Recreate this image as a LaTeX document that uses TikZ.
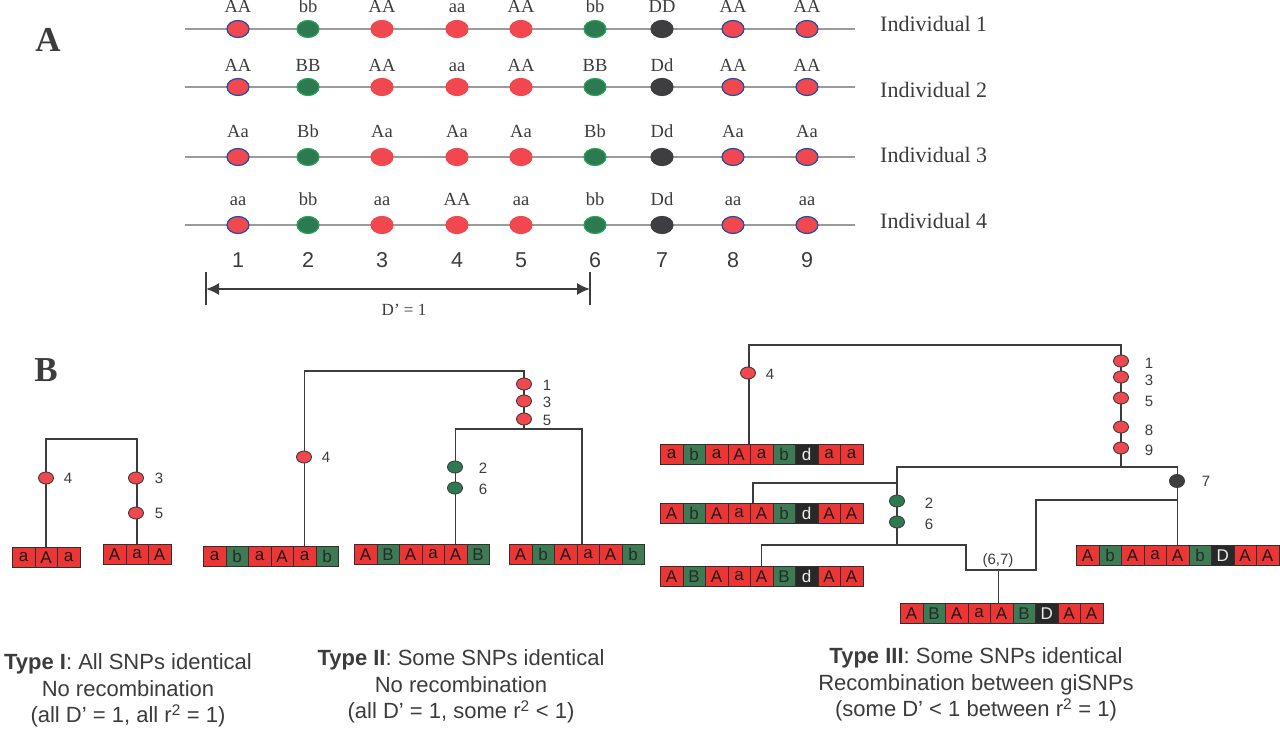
\documentclass[tikz,border=0pt]{standalone}
\usepackage{fontspec}
\setmainfont{Liberation Serif}
\setsansfont{Liberation Sans}
\usetikzlibrary{shapes.geometric,arrows.meta,calc}
\definecolor{snpred}{RGB}{240,72,78}
\definecolor{snpgreen}{RGB}{46,122,80}
\definecolor{snpgreenline}{RGB}{40,165,90}
\definecolor{snpdark}{RGB}{62,62,64}
\definecolor{snpblue}{RGB}{28,78,168}
\definecolor{cR}{RGB}{236,54,54}
\definecolor{cG}{RGB}{62,122,84}
\definecolor{cD}{RGB}{40,40,40}
\definecolor{txtcR}{RGB}{30,22,22}
\definecolor{txtcG}{RGB}{35,45,40}
\definecolor{txtcD}{RGB}{235,235,235}
\definecolor{ink}{RGB}{60,60,60}
\definecolor{rowline}{RGB}{155,155,155}
\pgfdeclarelayer{back}\pgfdeclarelayer{bg}\pgfsetlayers{back,bg,main}
\newcommand{\haplo}[4]{%
  \foreach \cc/\ll [count=\ii] in {#4}{%
    \node[cell, fill=\cc, text=txt\cc, anchor=north west] (#1-\ii) at ({#2+(\ii-1)*22.5},#3) {\ll};
  }}
\tikzset{
 cell/.style={draw=ink!80!black, line width=0.8pt, minimum width=22.5pt, minimum height=20pt, inner sep=0pt, font=\sffamily\fontsize{17}{17}\selectfont},
 snp/.style={ellipse, minimum width=22pt, minimum height=17pt, inner sep=0pt, line width=1.2pt},
 gt/.style={font=\fontsize{18.5}{18.5}\selectfont, text=ink, inner sep=0pt, anchor=base},
 num/.style={font=\sffamily\fontsize{21.5}{21.5}\selectfont, text=ink, inner sep=0pt, anchor=base},
 ind/.style={font=\fontsize{22}{22}\selectfont, text=ink, anchor=base west, inner sep=0pt},
 tR/.style={ellipse, minimum width=15pt, minimum height=12pt, inner sep=0pt, fill=snpred, draw=ink, line width=0.9pt},
 tG/.style={tR, fill=snpgreen},
 tD/.style={tR, fill=snpdark, minimum height=13pt},
 tlab/.style={font=\sffamily\fontsize{15}{15}\selectfont, text=ink, inner sep=0pt},
 tree/.style={draw=ink, line width=1.4pt},
 capt/.style={font=\sffamily\fontsize{22}{26.5}\selectfont, text=ink, align=center, anchor=north, inner sep=0pt},
 big/.style={font=\bfseries\fontsize{35}{35}\selectfont, text=ink, inner sep=0pt},
 rowl/.style={draw=rowline, line width=1.2pt},
 dim/.style={draw=ink, line width=1.8pt, {Latex[length=13pt,width=12pt]}-{Latex[length=13pt,width=12pt]}},
 tick/.style={draw=ink, line width=1.2pt},
}
\begin{document}
\begin{tikzpicture}[x=1pt,y=-1pt]
\useasboundingbox (0,0) rectangle (1280,730);
\begin{pgfonlayer}{back}
\fill[white] (0,0) rectangle (1280,730);
\end{pgfonlayer}

% ---------------- Part A ----------------
\node[big] (labA) at (48,40) {A};
\foreach \r/\y in {1/29,2/87,3/157,4/225}{
  \coordinate (L\r) at (185,\y);
  \coordinate (R\r) at (855,\y);
  \draw[rowl] (L\r) -- (R\r);
}
\foreach \c/\x/\fc/\dc/\la/\lb/\lc/\ld in {
 1/238/snpred/snpblue/AA/AA/Aa/aa,
 2/308/snpgreen/snpgreenline/bb/BB/Bb/bb,
 3/382/snpred/snpred/AA/AA/Aa/aa,
 4/457/snpred/snpred/aa/aa/Aa/AA,
 5/521/snpred/snpred/AA/AA/Aa/aa,
 6/595/snpgreen/snpgreenline/bb/BB/Bb/bb,
 7/662/snpdark/snpdark/DD/Dd/Dd/Dd,
 8/733/snpred/snpblue/AA/AA/Aa/aa,
 9/807/snpred/snpblue/AA/AA/Aa/aa}{
  \node[snp, fill=\fc, draw=\dc] (a1-\c) at (\x,29) {};
  \node[snp, fill=\fc, draw=\dc] (a2-\c) at (\x,87) {};
  \node[snp, fill=\fc, draw=\dc] (a3-\c) at (\x,157) {};
  \node[snp, fill=\fc, draw=\dc] (a4-\c) at (\x,225) {};
  \node[gt] (g1-\c) at (\x,13) {\la};
  \node[gt] (g2-\c) at (\x,72) {\lb};
  \node[gt] (g3-\c) at (\x,138) {\lc};
  \node[gt] (g4-\c) at (\x,206) {\ld};
  \node[num] (n\c) at (\x,267) {\c};
}
\node[ind] (ind1) at (880,32) {Individual 1};
\node[ind] (ind2) at (880,98) {Individual 2};
\node[ind] (ind3) at (880,163) {Individual 3};
\node[ind] (ind4) at (880,229) {Individual 4};

\coordinate (tL1) at (206,272); \coordinate (tL2) at (206,305);
\coordinate (tR1) at (590,272); \coordinate (tR2) at (590,305);
\draw[tick] (tL1) -- (tL2);
\draw[tick] (tR1) -- (tR2);
\coordinate (dL) at (206,289); \coordinate (dR) at (590,289);
\draw[dim] (dL) -- (dR);
\node[font=\fontsize{17}{17}\selectfont, text=ink, inner sep=0pt] (dlab) at (404,310) {D' = 1};

% ---------------- Part B ----------------
\node[big] (labB) at (46,370) {B};

% Type I
\node[tR] (e1-4) at (46,478) {};
\node[tR] (e1-3) at (136,478) {};
\node[tR] (e1-5) at (136,513) {};
\node[tlab] (l1-4) at (68,478) {4};
\node[tlab] (l1-3) at (159,478) {3};
\node[tlab] (l1-5) at (159,513) {5};
\haplo{h1a}{12}{547}{cR/a,cR/A,cR/a}
\haplo{h1b}{103}{544}{cR/A,cR/a,cR/A}
\coordinate (j1) at (91,439);
\begin{pgfonlayer}{bg}
\draw[tree] (h1a-2.north) |- (j1) -| (h1b-2.north);
\end{pgfonlayer}

% Type II
\node[tR] (e2-4) at (304,457) {};
\node[tR] (e2-1) at (524,384) {};
\node[tR] (e2-3) at (524,401) {};
\node[tR] (e2-5) at (524,419) {};
\node[tG] (e2-2) at (455,467) {};
\node[tG] (e2-6) at (455,488) {};
\node[tlab] (l2-4) at (326,457) {4};
\node[tlab] (l2-1) at (547,385) {1};
\node[tlab] (l2-3) at (547,402) {3};
\node[tlab] (l2-5) at (547,420) {5};
\node[tlab] (l2-2) at (483,468) {2};
\node[tlab] (l2-6) at (483,489) {6};
\haplo{h2a}{203}{546}{cR/a,cG/b,cR/a,cR/A,cR/a,cG/b}
\haplo{h2b}{354}{544}{cR/A,cG/B,cR/A,cR/a,cR/A,cG/B}
\haplo{h2c}{509}{544}{cR/A,cG/b,cR/A,cR/a,cR/A,cG/b}
\coordinate (j2) at (414,371);
\coordinate (j2b) at (524,429);
\begin{pgfonlayer}{bg}
\draw[tree] (h2a-5.north) |- (j2) -| (j2b);
\draw[tree] (h2b-5.north) |- (j2b) -| ([xshift=5.5pt]h2c-4.north west);
\end{pgfonlayer}

% Type III
\node[tR] (e3-4) at (748,373) {};
\node[tR] (e3-1) at (1121,361) {};
\node[tR] (e3-3) at (1121,377) {};
\node[tR] (e3-5) at (1121,398) {};
\node[tR] (e3-8) at (1121,427) {};
\node[tR] (e3-9) at (1121,448) {};
\node[tD] (e3-7) at (1177,481) {};
\node[tG] (e3-2) at (897,501) {};
\node[tG] (e3-6) at (897,522) {};
\node[tlab] (l3-4) at (770,374) {4};
\node[tlab] (l3-1) at (1149,363) {1};
\node[tlab] (l3-3) at (1149,380) {3};
\node[tlab] (l3-5) at (1149,401) {5};
\node[tlab] (l3-8) at (1149,430) {8};
\node[tlab] (l3-9) at (1149,450) {9};
\node[tlab] (l3-7) at (1206,481) {7};
\node[tlab] (l3-2) at (929,503) {2};
\node[tlab] (l3-6) at (929,524) {6};
\haplo{h3a}{660}{444}{cR/a,cG/b,cR/a,cR/A,cR/a,cG/b,cD/d,cR/a,cR/a}
\haplo{h3b}{660}{503}{cR/A,cG/b,cR/A,cR/a,cR/A,cG/b,cD/d,cR/A,cR/A}
\haplo{h3c}{660}{566}{cR/A,cG/B,cR/A,cR/a,cR/A,cG/B,cD/d,cR/A,cR/A}
\haplo{h3d}{1076}{545}{cR/A,cG/b,cR/A,cR/a,cR/A,cG/b,cD/D,cR/A,cR/A}
\haplo{h3e}{900}{603}{cR/A,cG/B,cR/A,cR/a,cR/A,cG/B,cD/D,cR/A,cR/A}
\coordinate (j3t) at (935,345);
\coordinate (j3a) at (1121,467);
\coordinate (j3L) at (897,483);
\coordinate (j3M) at (897,545);
\coordinate (r1) at (966,545);
\coordinate (r2) at (966,570);
\coordinate (r3) at (1036,570);
\coordinate (r4) at (1036,500);
\coordinate (j3R) at (1177,500);
\begin{pgfonlayer}{bg}
\draw[tree] ([xshift=-2pt]h3a-4.north east) |- (j3t) -| (j3a);
\draw[tree] (j3M) |- (j3a) -| (h3d-5.north);
\draw[tree] ([xshift=3pt]h3b-5.north west) |- (j3L);
\draw[tree] (h3c-5.north) |- (r1) -- (r2) -- (r3) -- (r4) -- (j3R);
\draw[tree] ([xshift=-3pt]h3e-5.north) -- ([xshift=-3pt]h3e-5.north |- r2);
\end{pgfonlayer}
\node[tlab] (rec) at (998,561) {(6,7)};

% captions
\node[capt] (cap1) at (128,653.5) {\textbf{Type I}: All SNPs identical\\No recombination\\(all D’ = 1, all r\textsuperscript{2} = 1)};
\node[capt] (cap2) at (461,649.5) {\textbf{Type II}: Some SNPs identical\\No recombination\\(all D’ = 1, some r\textsuperscript{2} < 1)};
\node[capt] (cap3) at (976,647.5) {\textbf{Type III}: Some SNPs identical\\Recombination between giSNPs\\(some D’ < 1 between r\textsuperscript{2} = 1)};
\end{tikzpicture}
\end{document}
